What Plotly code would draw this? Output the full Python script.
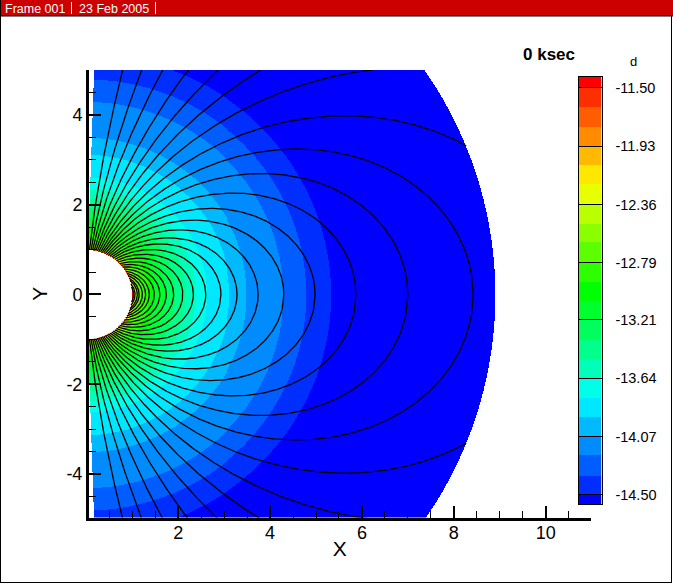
import numpy as np
import plotly.graph_objects as go

W, H = 673, 584

# Contour level boundaries and the colourbar labels
levels = [-14.50, -14.36, -14.21, -14.07, -13.93, -13.79, -13.64, -13.50, -13.36, -13.21, -13.07,
          -12.93, -12.79, -12.64, -12.50, -12.36, -12.21, -12.07, -11.93, -11.79, -11.64, -11.50]
# Radius at which each level boundary is crossed
level_radii = [5.34, 4.80, 4.30, 3.50, 3.12, 2.62, 2.37, 2.15, 1.93, 1.71, 1.49,
               1.36, 1.21, 1.10, 1.06, 1.04, 1.03, 1.02, 1.015, 1.01, 1.005, 1.002]
band_colors = ["#0000ff", "#002eff", "#005dff", "#008bff", "#00b9ff", "#00e8ff", "#00ffe8", "#00ffb9",
               "#00ff8b", "#00ff5d", "#00ff2e", "#00ff00", "#2eff00", "#5dff00", "#8bff00", "#b9ff00",
               "#e8ff00", "#ffe800", "#ffb900", "#ff8b00", "#ff5d00", "#ff2e00", "#ff0000"]
cbar_ticks = [-14.50, -14.07, -13.64, -13.21, -12.79, -12.36, -11.93, -11.50]
cbar_labels = ["-14.50", "-14.07", "-13.64", "-13.21", "-12.79", "-12.36", "-11.93", "-11.50"]
# Equatorial crossing distance of every field line
line_apex = [208, 93.8, 53, 33.3, 23.3, 17.2, 13.15, 10.34, 8.42, 7.0, 5.87, 4.98, 4.3, 3.74, 3.28,
             2.93, 2.6, 2.33, 2.1, 1.9, 1.74, 1.6, 1.48, 1.37, 1.29, 1.22, 1.15, 1.11, 1.06, 1.03]
x_ticks = [2, 4, 6, 8, 10]
y_ticks = [-4, -2, 0, 2, 4]
y_labels = ["-4", "-2", "0", "2", "4"]

R_IN, R_OUT, SIN_MIN = 1.0, 8.91, 0.033
ZMIN, ZMAX = -14.57, -11.42
X_RANGE = [0.058, 10.98]
Y_RANGE = [-4.967, 5.0]

# Field on a grid of about one cell per screen pixel
gx = np.arange(0.0, 9.05, 1 / 46)
gy = np.arange(-5.0, 5.0 + 1e-9, 1 / 44.9)
XX, YY = np.meshgrid(gx, gy)
RR = np.hypot(XX, YY)
edges = [ZMIN] + levels + [ZMAX]
mids = np.array([(edges[i] + edges[i + 1]) / 2 for i in range(len(edges) - 1)])
band = np.sum(RR[..., None] < np.array(level_radii), axis=-1)
Z = mids[band]
Z[(RR < R_IN) | (RR > R_OUT) | (XX < SIN_MIN * RR)] = np.nan

scale = []
for i, c in enumerate(band_colors):
    scale.append([(edges[i] - ZMIN) / (ZMAX - ZMIN), c])
    scale.append([(edges[i + 1] - ZMIN) / (ZMAX - ZMIN), c])

# Field lines r = L sin^2(theta), cut at the domain radius
lx, ly = [], []
for L in line_apex:
    top = min(L, R_OUT)
    r = np.linspace(1, top, 400)
    s = np.sqrt(np.clip(r / L, 0, 1))
    x = r * s
    y = r * np.sqrt(1 - s ** 2)
    if L <= R_OUT:
        lx += list(x) + list(x[::-1]) + [None]
        ly += list(y) + list(-y[::-1]) + [None]
    else:
        lx += list(x) + [None] + list(x) + [None]
        ly += list(y) + [None] + list(-y) + [None]

FONT = "Liberation Sans"
fig = go.Figure()
fig.add_trace(go.Heatmap(x=gx, y=gy, z=Z, zmin=ZMIN, zmax=ZMAX, colorscale=scale,
                         hoverinfo="skip", zsmooth=False, showscale=False))
fig.add_trace(go.Scatter(x=lx, y=ly, mode="lines", line=dict(color="black", width=1.3),
                         hoverinfo="skip", showlegend=False, connectgaps=False))
# Colour key as its own small heatmap, on its own axes
fig.add_trace(go.Heatmap(x=[0, 1], y=edges, z=[[m] for m in mids], zmin=ZMIN, zmax=ZMAX,
                         colorscale=scale, hoverinfo="skip", zsmooth=False, showscale=False,
                         xaxis="x2", yaxis="y2"))


def px(v):
    return v / W


def py(v):
    return 1 - v / H


def hline(x0, x1, y, color="black"):
    return dict(type="line", xref="paper", yref="paper", x0=px(x0), x1=px(x1), y0=py(y), y1=py(y),
                line=dict(color=color, width=1))


def vline(x, y0, y1, color="black"):
    return dict(type="line", xref="paper", yref="paper", x0=px(x), x1=px(x), y0=py(y0), y1=py(y1),
                line=dict(color=color, width=1))


shapes = [
    dict(type="rect", xref="paper", yref="paper", x0=0, x1=1, y0=py(0), y1=py(16),
         fillcolor="#cc0000", line=dict(width=0)),
    hline(0, W, 16), vline(71.5, 2, 14, "white"), vline(155.5, 2, 14, "white"),
    vline(0.5, 0, 583), vline(671.5, 16, 583), hline(0, 672, 582.5),
]


def note(text, x, y, size, color="black", bold=False, anchor="left"):
    return dict(text=("<b>%s</b>" % text) if bold else text, xref="paper", yref="paper",
                x=px(x), y=py(y), xanchor=anchor, yanchor="middle", showarrow=False,
                font=dict(family=FONT, size=size, color=color))


annotations = [
    note("Frame 001", 3, 8.5, 12.5, "white"),
    note("23 Feb 2005", 77, 8.5, 12.5, "white"),
    note("0 ksec", 521, 54, 17, bold=True),
    note("d", 633, 62, 13, anchor="center"),
]

axis_common = dict(showgrid=False, zeroline=False, showline=True, linecolor="black", linewidth=3,
                   ticks="inside", ticklen=12, tickwidth=2, tickcolor="black", tickmode="array",
                   tickfont=dict(family=FONT, size=18, color="black"),
                   minor=dict(dtick=0.5, tick0=0, ticks="inside", ticklen=7, tickwidth=1, tickcolor="black"))

fig.update_layout(
    width=W, height=H, autosize=False, paper_bgcolor="white", plot_bgcolor="white",
    margin=dict(l=0, r=0, t=0, b=0, pad=0), showlegend=False,
    shapes=shapes, annotations=annotations,
    xaxis=dict(domain=[px(89), px(590.7)], range=X_RANGE, tickvals=x_ticks,
               ticktext=[str(v) for v in x_ticks], anchor="y", ticklabelstandoff=-3,
               title=dict(text="X", font=dict(family=FONT, size=21, color="black"), standoff=0),
               **axis_common),
    yaxis=dict(domain=[py(517.5), py(70)], range=Y_RANGE, tickvals=y_ticks, ticktext=y_labels,
               anchor="x",
               title=dict(text="Y", font=dict(family=FONT, size=21, color="black"), standoff=14),
               **axis_common),
    xaxis2=dict(domain=[px(578.5), px(601.5)], range=[0, 1], anchor="y2", showticklabels=False,
                ticks="", showgrid=False, zeroline=False, showline=True, mirror=True,
                linecolor="black", linewidth=1),
    yaxis2=dict(domain=[py(504.3), py(77)], range=[ZMIN, ZMAX], anchor="x2", side="right",
                tickmode="array", tickvals=cbar_ticks, ticktext=cbar_labels, ticks="inside",
                ticklen=23, tickwidth=1, tickcolor="black", ticklabelstandoff=10,
                tickfont=dict(family=FONT, size=14.5, color="black"), showgrid=False, zeroline=False,
                showline=True, mirror=True, linecolor="black", linewidth=1),
)

fig.write_html("out.html", config={"displayModeBar": False},
               post_script="document.body.style.margin='0';document.body.style.overflow='hidden';")
